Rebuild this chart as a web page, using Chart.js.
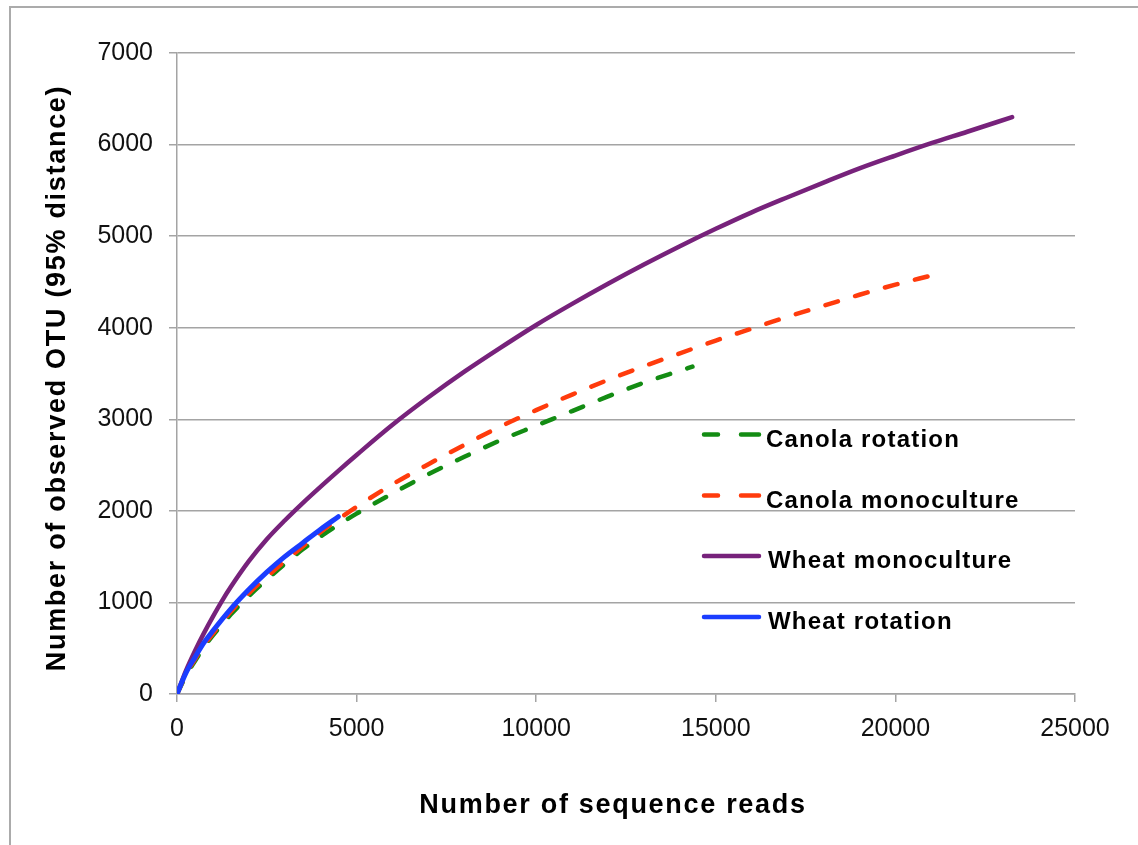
<!DOCTYPE html>
<html>
<head>
<meta charset="utf-8">
<script src="https://cdn.jsdelivr.net/npm/chart.js@4.4.1/dist/chart.umd.min.js"></script>
<style>
  html, body { margin: 0; padding: 0; background: #fff; }
  #wrap { position: relative; width: 1138px; height: 845px; overflow: hidden; }
  #frame { position: absolute; left: 9px; top: 6px; width: 1200px; height: 900px;
           border-left: 2px solid #ababab; border-top: 2px solid #ababab; }
  #c { position: absolute; left: 0; top: 0; }
</style>
</head>
<body>
<div id="wrap">
  <div id="frame"></div>
  <canvas id="c" width="1138" height="845"></canvas>
</div>
<script>
// Rarefaction curves: observed OTUs (95% distance) against sequence reads
const readsCanolaRot = [0, 250, 500, 750, 1000, 1500, 2000, 2500, 3000, 3500, 4000, 4500, 5000, 6000, 7000, 8000, 9000, 10000, 11000, 12000, 13000, 14000, 14350];
const otuCanolaRot   = [0, 200, 360, 510, 640, 870, 1070, 1250, 1420, 1580, 1720, 1850, 1970, 2190, 2400, 2590, 2770, 2930, 3090, 3250, 3400, 3530, 3575];

const readsCanolaMono = [0, 250, 500, 750, 1000, 1500, 2000, 2500, 3000, 3500, 4000, 4500, 5000, 6000, 7000, 8000, 9000, 10000, 11000, 12000, 13000, 14000, 15000, 16000, 17000, 18000, 19000, 20000, 21000, 21200];
const otuCanolaMono   = [0, 215, 380, 530, 660, 900, 1100, 1280, 1450, 1610, 1770, 1910, 2045, 2290, 2510, 2720, 2920, 3100, 3270, 3430, 3580, 3720, 3860, 3990, 4120, 4240, 4360, 4470, 4570, 4590];

const readsWheatMono = [0, 250, 500, 750, 1000, 1250, 1500, 2000, 2500, 3000, 3500, 4000, 4500, 5000, 6000, 7000, 8000, 9000, 10000, 11000, 12000, 13000, 14000, 15000, 16000, 17000, 18000, 19000, 20000, 21000, 22000, 23250];
const otuWheatMono   = [0, 255, 470, 665, 845, 1015, 1170, 1450, 1690, 1895, 2085, 2265, 2440, 2610, 2940, 3240, 3520, 3780, 4030, 4260, 4480, 4690, 4890, 5080, 5260, 5425, 5585, 5740, 5880, 6015, 6140, 6300];

const readsWheatRot = [0, 250, 500, 750, 1000, 1500, 2000, 2500, 3000, 3500, 4000, 4490];
const otuWheatRot   = [0, 230, 400, 560, 690, 930, 1140, 1330, 1500, 1650, 1800, 1936];

const xTicks = [0, 5000, 10000, 15000, 20000, 25000];
const yTicks = [0, 1000, 2000, 3000, 4000, 5000, 6000, 7000];

const seriesNames = ['Canola rotation', 'Canola monoculture', 'Wheat monoculture', 'Wheat rotation'];
const seriesColors = ['#138c13', '#ff3b0c', '#77227b', '#1b3dff'];
const seriesDashed = [true, true, false, false];

const xTitle = 'Number of sequence reads';
const yTitle = 'Number of observed OTU (95% distance)';

const FONT = '"Liberation Sans", Arial, Helvetica, sans-serif';
const GRID = '#a4a4a4';

function pts(xs, ys) { return xs.map((x, i) => ({ x: x, y: ys[i] })); }

function lineSet(idx, xs, ys, width) {
  return {
    label: seriesNames[idx],
    data: pts(xs, ys),
    borderColor: seriesColors[idx],
    backgroundColor: seriesColors[idx],
    borderWidth: width,
    borderDash: seriesDashed[idx] ? [13, 18] : [],
    borderCapStyle: 'round',
    borderJoinStyle: 'round',
    pointRadius: 0,
    pointHoverRadius: 0,
    fill: false,
    cubicInterpolationMode: 'monotone'
  };
}

// Axis titles and the in-plot key, drawn in a heavy bold face
const decor = {
  id: 'decor',
  afterDraw(chart) {
    const ctx = chart.ctx;
    ctx.save();
    ctx.fillStyle = '#000';
    ctx.font = 'bold 27px ' + FONT;
    ctx.letterSpacing = '1.7px';
    ctx.textAlign = 'center';
    ctx.textBaseline = 'alphabetic';
    ctx.fillText(xTitle, 613, 813);
    ctx.save();
    ctx.translate(65, 378);
    ctx.rotate(-Math.PI / 2);
    ctx.fillText(yTitle, 0, 0);
    ctx.restore();

    // key
    const rowsY = [434.5, 495.5, 556, 617];
    const textX = [766, 766, 768, 768];
    ctx.font = 'bold 24px ' + FONT;
    ctx.letterSpacing = '1.2px';
    ctx.textAlign = 'left';
    ctx.lineCap = 'round';
    ctx.lineWidth = 4.5;
    for (let i = 0; i < seriesNames.length; i++) {
      const y = rowsY[i];
      ctx.strokeStyle = seriesColors[i];
      ctx.beginPath();
      if (seriesDashed[i]) {
        ctx.moveTo(704, y); ctx.lineTo(718, y);
        ctx.moveTo(741, y); ctx.lineTo(759, y);
      } else {
        ctx.moveTo(704, y); ctx.lineTo(759, y);
      }
      ctx.stroke();
      ctx.fillText(seriesNames[i], textX[i], y + 12);
    }
    ctx.restore();
  }
};

new Chart(document.getElementById('c'), {
  type: 'line',
  data: {
    datasets: [
      lineSet(3, readsWheatRot, otuWheatRot, 5),
      lineSet(1, readsCanolaMono, otuCanolaMono, 4.5),
      lineSet(0, readsCanolaRot, otuCanolaRot, 4.5),
      lineSet(2, readsWheatMono, otuWheatMono, 4.5)
    ]
  },
  options: {
    responsive: false,
    animation: false,
    devicePixelRatio: 1,
    layout: { padding: { left: 0, top: 53, right: 63, bottom: 0 } },
    plugins: { legend: { display: false }, tooltip: { enabled: false } },
    scales: {
      x: {
        type: 'linear',
        min: xTicks[0],
        max: xTicks[xTicks.length - 1],
        afterBuildTicks(s) { s.ticks = xTicks.map(v => ({ value: v })); },
        afterFit(s) { s.height = 151; },
        ticks: {
          color: '#111',
          font: { family: FONT, size: 25 },
          padding: 12,
          maxRotation: 0,
          callback: v => String(v)
        },
        grid: { drawOnChartArea: false, drawTicks: true, tickLength: 8, color: GRID, lineWidth: 1.5 },
        border: { display: true, color: GRID, width: 1.5 }
      },
      y: {
        type: 'linear',
        min: yTicks[0],
        max: yTicks[yTicks.length - 1],
        afterBuildTicks(s) { s.ticks = yTicks.map(v => ({ value: v })); },
        afterFit(s) { s.width = 177; },
        ticks: {
          color: '#111',
          font: { family: FONT, size: 25 },
          padding: 16,
          callback: v => String(v)
        },
        grid: { drawOnChartArea: true, drawTicks: true, tickLength: 8, color: GRID, lineWidth: 1.5 },
        border: { display: true, color: GRID, width: 1.5 }
      }
    }
  },
  plugins: [decor]
});
</script>
</body>
</html>
